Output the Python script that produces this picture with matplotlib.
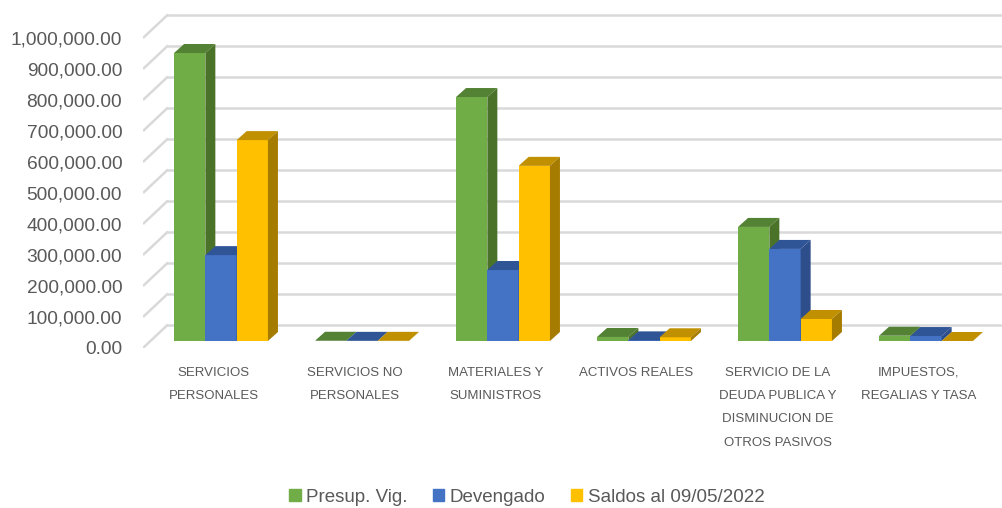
import matplotlib.pyplot as plt
from matplotlib.patches import Polygon, Patch

categories = ["SERVICIOS\nPERSONALES", "SERVICIOS NO\nPERSONALES", "MATERIALES Y\nSUMINISTROS",
              "ACTIVOS REALES", "SERVICIO DE LA\nDEUDA PUBLICA Y\nDISMINUCION DE\nOTROS PASIVOS",
              "IMPUESTOS,\nREGALIAS Y TASA"]
series = ["Presup. Vig.", "Devengado", "Saldos al 09/05/2022"]
presup = [929000, 800, 787000, 13000, 368000, 17000]
devengado = [277000, 500, 229000, 2000, 297000, 16000]
saldos = [648000, 500, 565000, 12000, 71000, 0]
yticks = list(range(0, 1000001, 100000))

front_cols = ["#70AD47", "#4472C4", "#FFC000"]
top_cols = ["#548235", "#2F5597", "#C09000"]
side_cols = ["#4A7229", "#2D4E8A", "#A67C00"]

plt.rcParams["font.family"] = ["Liberation Sans", "DejaVu Sans"]

W, H = 1003, 508
fig = plt.figure(figsize=(W / 100, H / 100), dpi=100)
# front plane: x=143px -> -0.5, 141px per category; value 0 at y=348px, 310px per 1M
px_x = 1 / 141
px_y = 1e6 / 310
ax = fig.add_axes([143 / W, 160 / H, 860 / W, 348 / H])
ax.set_xlim(-0.5, -0.5 + 860 * px_x)
ax.set_ylim(0, 348 * px_y)
for s in ax.spines.values():
    s.set_visible(False)

# pared del fondo
bx, by = 25 * px_x, 23.5 * px_y
grid = "#D9D9D9"
for v in yticks:
    ax.plot([-0.5, -0.5 + bx], [v, v + by], color=grid, lw=1.8, zorder=1, solid_capstyle="butt")
    ax.plot([-0.5 + bx, 6.5], [v + by, v + by], color=grid, lw=1.8, zorder=1)

# barras 3d
ox, oy = 7.5 * px_x, 7 * px_y
dx, dy = 10 * px_x, 9 * px_y
bw = 31.3 * px_x
data = [presup, devengado, saldos]
z = 2
for i in range(len(categories)):
    for j, vals in enumerate(data):
        v = vals[i]
        x0 = i + ox + (j - 1.5) * bw
        x1 = x0 + bw
        y0, y1 = oy, oy + v
        ax.bar(x0, v, width=bw, bottom=y0, align="edge", color=front_cols[j], lw=0, zorder=z)
        ax.add_patch(Polygon([(x0, y1), (x1, y1), (x1 + dx, y1 + dy), (x0 + dx, y1 + dy)],
                             closed=True, fc=top_cols[j], lw=0, zorder=z))
        ax.add_patch(Polygon([(x1, y0), (x1 + dx, y0 + dy), (x1 + dx, y1 + dy), (x1, y1)],
                             closed=True, fc=side_cols[j], lw=0, zorder=z))
        z += 1

ax.set_yticks(yticks)
ax.set_yticklabels([f"{v:,.2f}" for v in yticks])
ax.tick_params(axis="y", length=0, pad=15, labelsize=13.8, labelcolor="#595959")
ax.set_xticks(range(len(categories)))
ax.set_xticklabels(categories, linespacing=2.25)
ax.tick_params(axis="x", length=0, pad=13.5, labelsize=9.5, labelcolor="#595959")
for t in ax.get_xticklabels():
    t.set_verticalalignment("top")

handles = [Patch(color=c, label=s) for c, s in zip(front_cols, series)]
fig.legend(handles=handles, loc="center", bbox_to_anchor=(527 / W, 1 - 497 / H), ncol=3,
           frameon=False, fontsize=13.5, handlelength=0.6, handleheight=0.6,
           handletextpad=0.3, columnspacing=1.35, labelcolor="#595959")

fig.savefig("out.png", dpi=100)
